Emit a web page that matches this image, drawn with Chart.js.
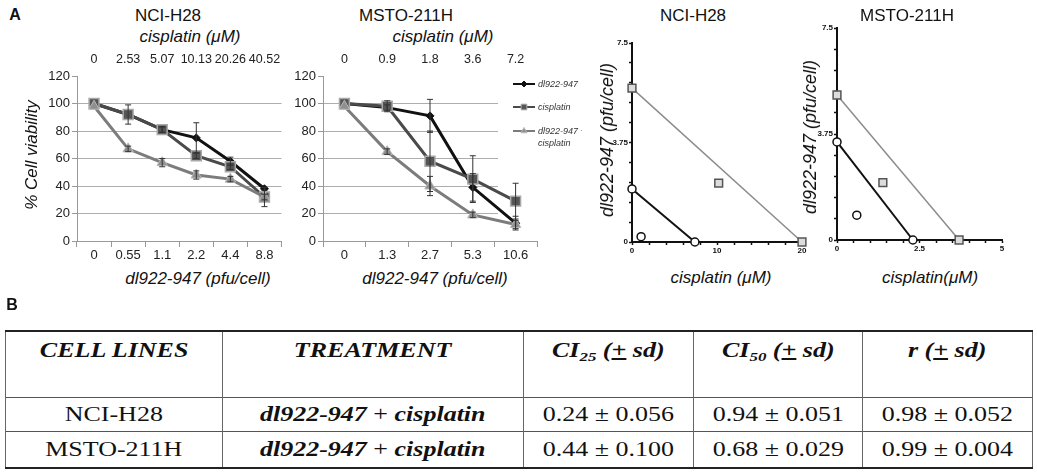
<!DOCTYPE html>
<html><head><meta charset="utf-8">
<script src="https://cdn.jsdelivr.net/npm/chart.js@4.4.0/dist/chart.umd.min.js"></script>
<style>
html,body{margin:0;padding:0;background:#fff;}
body{width:1037px;height:472px;position:relative;overflow:hidden;font-family:'Liberation Sans',Arial,sans-serif;color:#111;}
canvas{position:absolute;display:block;}
.t{position:absolute;white-space:nowrap;transform:translate(-50%,-50%);line-height:1;z-index:5;}
.rot{transform:translate(-50%,-50%) rotate(-90deg);}
.i{font-style:italic;font-size:17px;}
.ti{font-size:17px;}
.lbl{font-weight:bold;font-size:16px;}
#tbl{position:absolute;left:5px;top:330px;width:1027px;border-collapse:collapse;table-layout:fixed;font-family:'Liberation Serif','Times New Roman',serif;font-size:20px;color:#111;}
#tbl td{border-left:1.5px solid #666;border-right:1.5px solid #666;border-top:1px solid #555;text-align:center;padding:0;overflow:visible;white-space:nowrap;}
#tbl tr.h td{height:66px;vertical-align:top;padding-top:7px;box-sizing:border-box;border-top:2px solid #222;}
#tbl tr.r1 td{height:33px;vertical-align:middle;}
#tbl tr.r2 td{height:35px;vertical-align:middle;border-bottom:2px solid #222;}
.s{display:inline-block;transform:scaleX(1.3);}
sub{font-size:13px;vertical-align:-4px;line-height:0;}
</style></head>
<body>
<canvas id="c1" width="270" height="215" style="left:20px;top:50px;"></canvas>
<canvas id="c2" width="292" height="215" style="left:290px;top:50px;"></canvas>
<canvas id="c3" width="202" height="230" style="left:610px;top:30px;"></canvas>
<canvas id="c4" width="197" height="243" style="left:815px;top:15px;"></canvas>

<div class="t lbl" style="left:15px;top:15px;">A</div>
<div class="t ti" style="left:168px;top:15px;">NCI-H28</div>
<div class="t i" style="left:190px;top:36px;">cisplatin (μM)</div>
<div class="t ti" style="left:406px;top:15px;">MSTO-211H</div>
<div class="t i" style="left:443px;top:36px;">cisplatin (μM)</div>
<div class="t i rot" style="left:31px;top:155px;">% Cell viability</div>
<div class="t i" style="left:198px;top:278px;">dl922-947 (pfu/cell)</div>
<div class="t i" style="left:435px;top:278px;">dl922-947 (pfu/cell)</div>
<div class="t ti" style="left:693px;top:15px;">NCI-H28</div>
<div class="t ti" style="left:907px;top:15px;">MSTO-211H</div>
<div class="t i rot" style="left:607px;top:140px;font-size:18px;">dl922-947 (pfu/cell)</div>
<div class="t i rot" style="left:810px;top:137px;font-size:18px;">dl922-947 (pfu/cell)</div>
<div class="t i" style="left:721px;top:277px;">cisplatin (μM)</div>
<div class="t i" style="left:930px;top:277px;">cisplatin(μM)</div>
<div class="t lbl" style="left:12px;top:305px;">B</div>

<table id="tbl">
<colgroup><col style="width:217px"><col style="width:301px"><col style="width:170px"><col style="width:169px"><col style="width:170px"></colgroup>
<tr class="h">
<td><span class="s"><b><i>CELL LINES</i></b></span></td>
<td><span class="s"><b><i>TREATMENT</i></b></span></td>
<td><span class="s"><b><i>CI<sub>25</sub> (<u>+</u> sd)</i></b></span></td>
<td><span class="s"><b><i>CI<sub>50</sub> (<u>+</u> sd)</i></b></span></td>
<td><span class="s"><b><i>r (<u>+</u> sd)</i></b></span></td>
</tr>
<tr class="r1">
<td><span class="s">NCI-H28</span></td>
<td><span class="s"><b><i>dl922-947</i></b> + <b><i>cisplatin</i></b></span></td>
<td><span class="s">0.24 ± 0.056</span></td>
<td><span class="s">0.94 ± 0.051</span></td>
<td><span class="s">0.98 ± 0.052</span></td>
</tr>
<tr class="r2">
<td><span class="s">MSTO-211H</span></td>
<td><span class="s"><b><i>dl922-947</i></b> + <b><i>cisplatin</i></b></span></td>
<td><span class="s">0.44 ± 0.100</span></td>
<td><span class="s">0.68 ± 0.029</span></td>
<td><span class="s">0.99 ± 0.004</span></td>
</tr>
</table>

<script>
// ---------- DATA ----------
const h28VirusDoses = ['0', '0.55', '1.1', '2.2', '4.4', '8.8'];
const h28CisDoses = ['0', '2.53', '5.07', '10.13', '20.26', '40.52'];
const h28ViabVirus = [100, 92, 81, 75, 58, 38];
const h28ViabCis = [100, 92, 81, 62, 54, 32];
const h28ViabCombo = [98, 67, 57, 48, 45, 32];
const h28ErrVirus = [0, 0, 2, 11, 3, 1];
const h28ErrCis = [0, 7, 2, 2, 2, 7];
const h28ErrCombo = [0, 2, 3, 3, 2, 2];

const mstoVirusDoses = ['0', '1.3', '2.7', '5.3', '10.6'];
const mstoCisDoses = ['0', '0.9', '1.8', '3.6', '7.2'];
const mstoViabVirus = [100, 97, 91, 39, 13];
const mstoViabCis = [100, 98, 58, 45, 29];
const mstoViabCombo = [98, 65, 40, 19, 12];
const mstoErrVirus = [0, 2, 12, 10, 5];
const mstoErrCis = [0, 4, 22, 17, 13];
const mstoErrCombo = [0, 2, 7, 2, 3];

const seriesNames = ['dl922-947', 'cisplatin', ['dl922-947 +', 'cisplatin']];

// isobolograms: x = cisplatin (μM), y = dl922-947 (pfu/cell)
const isoH28ED50Line = [{x: 0, y: 5.8}, {x: 20, y: 0}];
const isoH28ED25Line = [{x: 0, y: 2.0}, {x: 7.4, y: 0}];
const isoH28ED50Combo = [{x: 10.2, y: 2.22}];
const isoH28ED25Combo = [{x: 1.07, y: 0.2}];
const isoH28XTicks = [0, 10, 20];

const isoMstoED50Line = [{x: 0, y: 5.13}, {x: 3.7, y: 0}];
const isoMstoED25Line = [{x: 0, y: 3.47}, {x: 2.3, y: 0}];
const isoMstoED50Combo = [{x: 1.39, y: 2.03}];
const isoMstoED25Combo = [{x: 0.6, y: 0.88}];
const isoMstoXTicks = [0, 2.5, 5];

const isoYTicks = [0, 3.75, 7.5];

// ---------- STYLE ----------
Chart.defaults.font.family = "'Liberation Sans', Arial, sans-serif";
Chart.defaults.color = '#222';

const styleVirus = {borderColor: '#111', borderWidth: 3, pointStyle: 'rectRot', pointRadius: 4,
  pointBackgroundColor: '#111', pointBorderColor: '#111', pointBorderWidth: 1, order: 2};
const styleCis = {borderColor: '#4a4a4a', borderWidth: 3, pointStyle: 'rect', pointRadius: 7,
  pointBackgroundColor: '#555', pointBorderColor: '#a8a8a8', pointBorderWidth: 1.5, order: 1};
const styleCombo = {borderColor: '#7c7c7c', borderWidth: 3, pointStyle: 'triangle', pointRadius: 6,
  pointBackgroundColor: '#8f8f8f', pointBorderColor: '#b8b8b8', pointBorderWidth: 1, order: 0};

const errorBars = {
  id: 'errorBars',
  afterDatasetsDraw(chart) {
    const ctx = chart.ctx, ys = chart.scales.y;
    chart.data.datasets.forEach((ds, i) => {
      if (!ds.errors) return;
      const meta = chart.getDatasetMeta(i);
      meta.data.forEach((pt, j) => {
        const e = ds.errors[j];
        if (!e) return;
        const v = ds.data[j];
        const x = pt.x, yt = ys.getPixelForValue(v + e), yb = ys.getPixelForValue(v - e);
        ctx.save();
        ctx.strokeStyle = '#333'; ctx.lineWidth = 1;
        ctx.beginPath();
        ctx.moveTo(x, yt); ctx.lineTo(x, yb);
        ctx.moveTo(x - 3, yt); ctx.lineTo(x + 3, yt);
        ctx.moveTo(x - 3, yb); ctx.lineTo(x + 3, yb);
        ctx.stroke();
        ctx.restore();
      });
    });
  }
};

const insetLegend = {
  id: 'insetLegend',
  beforeDatasetsDraw(chart, args, opts) {
    if (!opts.show) return;
    const a = chart.chartArea, ctx = chart.ctx;
    ctx.save(); ctx.fillStyle = '#fff';
    ctx.fillRect(a.right - 39, a.top - 1, 41, a.bottom - a.top);
    ctx.restore();
  },
  afterDraw(chart, args, opts) {
    if (!opts.show) return;
    const a = chart.chartArea, ctx = chart.ctx;
    const rows = [8, 31, 55];
    const radii = [3, 4, 3.5];
    chart.data.datasets.forEach((ds, i) => {
      const y = a.top + rows[i];
      const x0 = a.right - 24, x1 = a.right - 2;
      ctx.save();
      ctx.strokeStyle = ds.borderColor; ctx.lineWidth = 2;
      ctx.beginPath(); ctx.moveTo(x0, y); ctx.lineTo(x1, y); ctx.stroke();
      ctx.fillStyle = ds.pointBackgroundColor; ctx.strokeStyle = ds.pointBorderColor; ctx.lineWidth = 1;
      Chart.helpers.drawPoint(ctx, {pointStyle: ds.pointStyle, radius: radii[i], rotation: 0, borderWidth: 1}, (x0 + x1) / 2, y);
      ctx.fillStyle = '#333';
      ctx.font = "italic 9px 'Liberation Sans', Arial, sans-serif";
      ctx.textBaseline = 'middle'; ctx.textAlign = 'left';
      const name = seriesNames[i];
      const lines = Array.isArray(name) ? name : [name];
      lines.forEach((ln, k) => ctx.fillText(ln, a.right + 1, y + k * 12));
      ctx.restore();
    });
  }
};

function viabChart(id, virusDoses, cisDoses, vals, errs, yWidth, padRight, showLegend) {
  const styles = [styleVirus, styleCis, styleCombo];
  const datasets = vals.map((v, i) => Object.assign({data: v, errors: errs[i], tension: 0, clip: false}, styles[i]));
  return new Chart(document.getElementById(id), {
    type: 'line',
    data: {labels: virusDoses, datasets},
    options: {
      responsive: false, animation: false,
      layout: {padding: {left: 0, right: padRight, top: 0, bottom: 0}},
      plugins: {legend: {display: false}, tooltip: {enabled: false}, insetLegend: {show: showLegend}},
      scales: {
        x: {type: 'category', position: 'bottom', offset: true,
          grid: {offset: true, drawOnChartArea: false, drawTicks: true, tickLength: 6, tickColor: '#999'},
          border: {display: true, color: '#999', width: 1},
          ticks: {font: {size: 13}, color: '#222', padding: 1, maxRotation: 0, autoSkip: false},
          afterFit: s => { s.height = 24; }},
        x2: {type: 'category', position: 'top', labels: cisDoses, offset: true,
          grid: {display: false}, border: {display: false},
          ticks: {font: {size: 12.5}, color: '#222', padding: 1, maxRotation: 0, autoSkip: false},
          afterFit: s => { s.height = 26; }},
        y: {min: 0, max: 120,
          ticks: {stepSize: 20, font: {size: 13}, color: '#222', padding: 2},
          grid: {color: c => (c.tick && c.tick.value === 120) ? 'rgba(0,0,0,0)' : '#adadad',
            tickColor: '#999', tickLength: 5, lineWidth: 1},
          border: {display: true, color: '#999', width: 1},
          afterFit: s => { s.width = yWidth; }}
      }
    },
    plugins: [errorBars, insetLegend]
  });
}

viabChart('c1', h28VirusDoses, h28CisDoses, [h28ViabVirus, h28ViabCis, h28ViabCombo],
  [h28ErrVirus, h28ErrCis, h28ErrCombo], 57, 2, false);
viabChart('c2', mstoVirusDoses, mstoCisDoses, [mstoViabVirus, mstoViabCis, mstoViabCombo],
  [mstoErrVirus, mstoErrCis, mstoErrCombo], 33, 45, true);

const squareStyle = {pointStyle: 'rect', pointRadius: 5.5, pointBackgroundColor: '#dcdcdc',
  pointBorderColor: '#555', pointBorderWidth: 1.5};
const circleStyle = {pointStyle: 'circle', pointRadius: 4, pointBackgroundColor: '#fff',
  pointBorderColor: '#111', pointBorderWidth: 1.5};

function isoChart(id, xMax, xStep, xTicks, ed50Line, ed25Line, ed50Combo, ed25Combo) {
  const same = (a, b) => Math.abs(a - b) < 1e-6;
  return new Chart(document.getElementById(id), {
    type: 'scatter',
    data: {datasets: [
      Object.assign({data: ed50Line, showLine: true, borderColor: '#8c8c8c', borderWidth: 1.5, clip: false}, squareStyle),
      Object.assign({data: ed25Line, showLine: true, borderColor: '#111', borderWidth: 2, clip: false}, circleStyle),
      Object.assign({data: ed50Combo, showLine: false, clip: false}, squareStyle),
      Object.assign({data: ed25Combo, showLine: false, clip: false}, circleStyle)
    ]},
    options: {
      responsive: false, animation: false,
      layout: {padding: {left: 0, right: 10, top: 13, bottom: 0}},
      plugins: {legend: {display: false}, tooltip: {enabled: false}},
      scales: {
        x: {type: 'linear', min: 0, max: xMax,
          ticks: {stepSize: xStep, autoSkip: false, maxRotation: 0, padding: 1, color: '#111',
            font: {size: 8, weight: 'bold'},
            callback: v => xTicks.some(t => same(t, v)) ? String(v) : ''},
          grid: {drawOnChartArea: false, drawTicks: true, tickLength: 3, tickColor: '#111', tickWidth: 1.5},
          border: {display: true, color: '#111', width: 2},
          afterFit: s => { s.height = 18; }},
        y: {min: 0, max: 7.5,
          ticks: {stepSize: 0.75, autoSkip: false, padding: 1, color: '#111',
            font: {size: 8, weight: 'bold'},
            callback: v => isoYTicks.some(t => same(t, v)) ? String(v) : ''},
          grid: {drawOnChartArea: false, drawTicks: true, tickLength: 3, tickColor: '#111', tickWidth: 1.5},
          border: {display: true, color: '#111', width: 2},
          afterFit: s => { s.width = 22; }}
      }
    }
  });
}

isoChart('c3', 20, 2, isoH28XTicks, isoH28ED50Line, isoH28ED25Line, isoH28ED50Combo, isoH28ED25Combo);
isoChart('c4', 5, 0.5, isoMstoXTicks, isoMstoED50Line, isoMstoED25Line, isoMstoED50Combo, isoMstoED25Combo);
</script>
</body></html>
